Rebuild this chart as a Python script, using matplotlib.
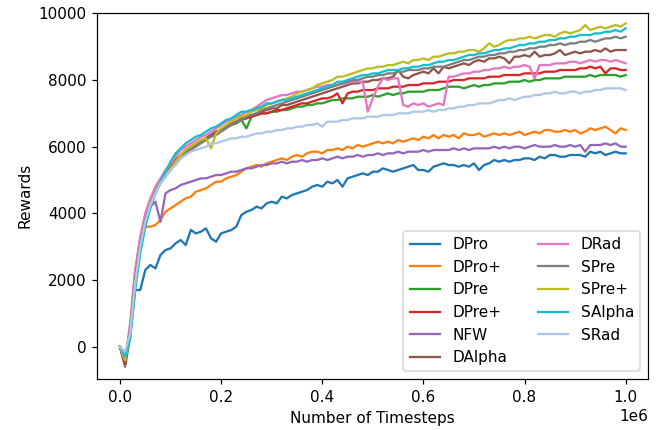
import matplotlib
matplotlib.use("Agg")
import matplotlib.pyplot as plt
import numpy as np

# x positions in timesteps (every 10k steps)
timesteps = np.arange(0, 1000001, 10000)

early_dpro = [0, -600, 300, 1700, 1700, 2300, 2450, 2350, 2750, 2900]
dpro = early_dpro + [
    2950, 3100, 3200, 3050, 3500, 3400, 3450, 3550, 3250, 3150,
    3400, 3450, 3500, 3600, 3950, 4050, 4100, 4200, 4150, 4300,
    4350, 4300, 4500, 4450, 4550, 4600, 4650, 4700, 4800, 4850,
    4800, 4950, 4900, 5000, 4800, 5050, 5100, 5150, 5200, 5150,
    5250, 5250, 5350, 5300, 5250, 5300, 5350, 5400, 5450, 5300,
    5300, 5250, 5400, 5450, 5500, 5450, 5450, 5400, 5450, 5400,
    5500, 5300, 5450, 5500, 5600, 5550, 5600, 5550, 5600, 5600,
    5650, 5650, 5600, 5700, 5650, 5750, 5750, 5700, 5700, 5750,
    5750, 5750, 5700, 5850, 5800, 5850, 5750, 5800, 5850, 5800,
    5800]

dpro_plus = [0, -550, 400, 2000, 3000, 3600, 3600, 3650, 3800, 4050,
    4150, 4250, 4350, 4450, 4500, 4650, 4700, 4750, 4850, 4950,
    4950, 5050, 5100, 5150, 5250, 5350, 5400, 5450, 5400, 5500,
    5550, 5600, 5650, 5600, 5700, 5750, 5700, 5800, 5850, 5850,
    5800, 5900, 5900, 5950, 5900, 6000, 5950, 6050, 6000, 6050,
    6100, 6150, 6100, 6150, 6100, 6200, 6150, 6200, 6250, 6200,
    6300, 6250, 6350, 6250, 6350, 6300, 6350, 6250, 6400, 6350,
    6350, 6400, 6300, 6350, 6400, 6350, 6400, 6350, 6400, 6450,
    6350, 6400, 6450, 6400, 6500, 6500, 6450, 6450, 6500, 6450,
    6500, 6400, 6450, 6550, 6500, 6550, 6600, 6500, 6400, 6550,
    6500]

dpre = [0, -450, 450, 2000, 3100, 3850, 4300, 4650, 4950, 5150,
    5350, 5550, 5700, 5850, 5950, 6050, 6150, 6250, 6300, 6400,
    6500, 6600, 6650, 6700, 6800, 6550, 6900, 6950, 7000, 7000,
    7050, 7050, 7100, 7100, 7150, 7200, 7200, 7250, 7250, 7300,
    7300, 7350, 7400, 7400, 7450, 7450, 7450, 7500, 7500, 7500,
    7550, 7500, 7550, 7600, 7550, 7600, 7600, 7650, 7650, 7650,
    7650, 7700, 7700, 7700, 7750, 7800, 7800, 7800, 7750, 7800,
    7850, 7800, 7850, 7850, 7900, 7900, 7900, 7950, 7950, 7950,
    8000, 7950, 8000, 8000, 8050, 8050, 8050, 8050, 8100, 8100,
    8100, 8100, 8100, 8150, 8100, 8150, 8150, 8150, 8150, 8100,
    8150]

dpre_plus = [0, -520, 550, 2200, 3200, 3900, 4350, 4700, 5000, 5200,
    5400, 5600, 5750, 5900, 6000, 6100, 6200, 6250, 6350, 6450,
    6500, 6600, 6650, 6750, 6800, 6850, 6900, 6950, 7000, 7000,
    7050, 7100, 7100, 7150, 7200, 7250, 7300, 7300, 7350, 7400,
    7450, 7450, 7500, 7600, 7300, 7600, 7650, 7650, 7700, 7700,
    7700, 7750, 7750, 7750, 7800, 7800, 7800, 7850, 7850, 7850,
    7900, 7900, 7900, 7950, 7950, 7950, 8000, 8000, 8000, 8050,
    8050, 8050, 8050, 8100, 8100, 8100, 8150, 8150, 8150, 8150,
    8200, 8200, 8200, 8200, 8250, 8250, 8250, 8300, 8300, 8300,
    8300, 8350, 8350, 8400, 8350, 8400, 8200, 8350, 8350, 8300,
    8300]

nfw = [0, -400, 450, 2000, 3000, 3750, 4200, 4350, 3750, 4600,
    4700, 4750, 4850, 4900, 4950, 5000, 5050, 5050, 5100, 5150,
    5150, 5200, 5250, 5250, 5300, 5350, 5350, 5400, 5450, 5450,
    5500, 5500, 5550, 5500, 5550, 5550, 5600, 5550, 5600, 5600,
    5650, 5600, 5650, 5700, 5650, 5700, 5700, 5750, 5700, 5750,
    5750, 5800, 5750, 5800, 5800, 5850, 5800, 5850, 5850, 5850,
    5900, 5850, 5900, 5900, 5900, 5900, 5950, 5900, 5950, 5900,
    5950, 5950, 5950, 5950, 6000, 5950, 6000, 5950, 6000, 6000,
    5950, 6000, 6050, 6000, 6000, 6000, 6050, 6000, 6000, 6050,
    6000, 6050, 5850, 6050, 6050, 6050, 6100, 6050, 6100, 6000,
    6000]

dalpha = [0, -450, 500, 2100, 3150, 3850, 4300, 4650, 4950, 5150,
    5350, 5550, 5700, 5850, 5950, 6050, 6150, 6250, 6350, 6450,
    6500, 6600, 6700, 6750, 6850, 6900, 6950, 7000, 7050, 7100,
    7150, 7150, 7250, 7250, 7300, 7350, 7400, 7450, 7500, 7550,
    7600, 7650, 7700, 7750, 7800, 7850, 7900, 7900, 7950, 7950,
    8000, 8000, 8050, 8050, 8100, 8300, 8100, 8050, 8150, 8200,
    8250, 8200, 8350, 8200, 8400, 8350, 8400, 8450, 8500, 8450,
    8550, 8600, 8550, 8650, 8650, 8700, 8650, 8500, 8700, 8700,
    8750, 8700, 8850, 8700, 8750, 8750, 8800, 8900, 8750, 8800,
    8850, 8800, 8850, 8850, 8900, 8850, 8950, 8850, 8900, 8900,
    8900]

drad = [0, -400, 700, 2300, 3300, 4000, 4450, 4800, 5050, 5300,
    5500, 5700, 5900, 6000, 6100, 6200, 6300, 6350, 6450, 6550,
    6650, 6750, 6800, 6900, 6950, 7050, 7100, 7200, 7300, 7400,
    7450, 7500, 7550, 7550, 7600, 7650, 7650, 7700, 7750, 7800,
    7800, 7850, 7850, 7850, 7900, 7900, 7950, 7950, 7950, 7050,
    7450, 7800, 8050, 8000, 8050, 8050, 7250, 7200, 7300, 7250,
    7300, 7200, 7250, 7300, 7250, 8100, 8100, 8150, 8200, 8200,
    8250, 8250, 8300, 8300, 8350, 8350, 8400, 8350, 8400, 8400,
    8450, 8400, 8050, 8450, 8450, 8450, 8500, 8500, 8500, 8550,
    8550, 8500, 8550, 8600, 8550, 8600, 8600, 8550, 8600, 8550,
    8500]

spre = [0, -350, 500, 2050, 3100, 3800, 4250, 4600, 4900, 5100,
    5300, 5500, 5650, 5800, 5900, 6000, 6100, 6200, 6300, 6350,
    6450, 6550, 6650, 6750, 6800, 6900, 6950, 7000, 7100, 7150,
    7200, 7250, 7300, 7350, 7400, 7450, 7500, 7550, 7600, 7650,
    7700, 7750, 7800, 7850, 7900, 7950, 8000, 8000, 8050, 8100,
    8100, 8150, 8150, 8200, 8200, 8250, 8250, 8300, 8300, 8300,
    8350, 8350, 8400, 8400, 8400, 8450, 8500, 8550, 8600, 8600,
    8650, 8700, 8700, 8750, 8750, 8800, 8800, 8850, 8850, 8900,
    8900, 8950, 8950, 9000, 9000, 9050, 9050, 9100, 9050, 9100,
    9100, 9150, 9150, 9200, 9150, 9200, 9250, 9250, 9300, 9250,
    9300]

spre_plus = [0, -400, 350, 1900, 3000, 3750, 4250, 4650, 4950, 5150,
    5350, 5550, 5750, 5900, 6000, 6100, 6200, 6250, 5950, 6400,
    6550, 6650, 6750, 6850, 6900, 6950, 7050, 7100, 7150, 7250,
    7300, 7350, 7400, 7450, 7500, 7600, 7650, 7700, 7750, 7850,
    7900, 7950, 8000, 8100, 8100, 8150, 8200, 8250, 8300, 8350,
    8350, 8400, 8400, 8450, 8450, 8500, 8550, 8500, 8600, 8600,
    8650, 8600, 8700, 8700, 8750, 8800, 8800, 8850, 8850, 8900,
    8900, 8850, 8950, 9100, 9000, 9050, 9150, 9200, 9200, 9250,
    9250, 9300, 9250, 9300, 9350, 9350, 9300, 9400, 9450, 9400,
    9450, 9500, 9650, 9500, 9550, 9600, 9550, 9600, 9650, 9600,
    9700]

salpha = [0, -300, 250, 1700, 2800, 3600, 4150, 4600, 4950, 5250,
    5550, 5800, 5950, 6100, 6200, 6300, 6350, 6450, 6550, 6600,
    6700, 6800, 6850, 6950, 7050, 7050, 7100, 7150, 7200, 7300,
    7300, 7350, 7400, 7400, 7450, 7500, 7550, 7600, 7650, 7700,
    7750, 7800, 7850, 7950, 7950, 8000, 8050, 8100, 8150, 8150,
    8200, 8200, 8250, 8300, 8300, 8300, 8350, 8350, 8400, 8400,
    8450, 8450, 8500, 8550, 8550, 8600, 8600, 8650, 8700, 8750,
    8750, 8800, 8800, 8850, 8900, 8900, 8950, 8950, 9000, 9050,
    9050, 9100, 9100, 9150, 9150, 9200, 9200, 9250, 9250, 9300,
    9300, 9350, 9350, 9350, 9400, 9400, 9450, 9450, 9500, 9450,
    9550]

srad = [0, -150, 400, 1900, 3000, 3750, 4250, 4600, 4900, 5100,
    5300, 5450, 5650, 5750, 5850, 5900, 5950, 6000, 6100, 6100,
    6150, 6200, 6250, 6250, 6300, 6300, 6350, 6400, 6400, 6450,
    6450, 6500, 6500, 6550, 6550, 6600, 6600, 6650, 6650, 6700,
    6600, 6750, 6750, 6750, 6800, 6800, 6850, 6850, 6850, 6900,
    6900, 6900, 6950, 6950, 6950, 7000, 7000, 7000, 7050, 7050,
    7050, 7100, 7050, 7100, 7100, 7150, 7150, 7200, 7200, 7250,
    7250, 7300, 7300, 7300, 7350, 7400, 7400, 7450, 7400, 7450,
    7500, 7500, 7550, 7550, 7600, 7600, 7650, 7600, 7600, 7650,
    7650, 7600, 7650, 7650, 7700, 7700, 7750, 7750, 7750, 7750,
    7700]

labels = ["DPro", "DPro+", "DPre", "DPre+", "NFW", "DAlpha",
          "DRad", "SPre", "SPre+", "SAlpha", "SRad"]
series = [dpro, dpro_plus, dpre, dpre_plus, nfw, dalpha,
          drad, spre, spre_plus, salpha, srad]
colors = ["#1f77b4", "#ff7f0e", "#2ca02c", "#d62728", "#9467bd", "#8c564b",
          "#e377c2", "#7f7f7f", "#bcbd22", "#17becf", "#aec7e8"]

DPI = 110
fig = plt.figure(figsize=(657 / DPI, 430 / DPI), dpi=DPI)
ax = fig.add_axes([97 / 657, 1 - 379 / 430, (647.7 - 97) / 657, (379 - 12.7) / 430])

for lab, ys, c in zip(labels, series, colors):
    ax.plot(timesteps, ys, color=c, label=lab, linewidth=1.5)

ax.set_xlim(-0.0455e6, 1.0436e6)
ax.set_ylim(-970, 10020)
ax.set_xlabel("Number of Timesteps")
ax.set_ylabel("Rewards")
ax.legend(loc="lower right", ncol=2)

fig.savefig("out.png", dpi=DPI)
